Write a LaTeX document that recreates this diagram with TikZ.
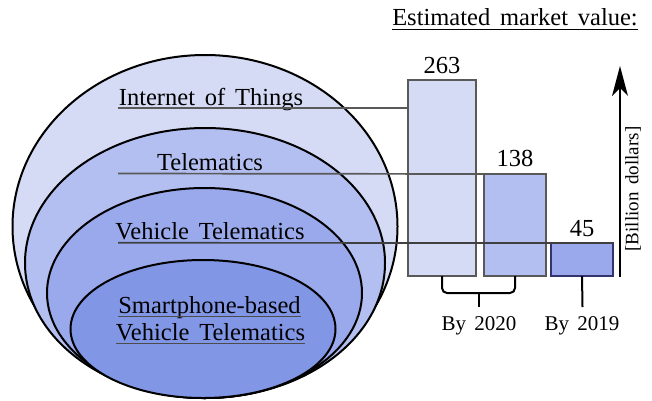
\documentclass[tikz,border=0pt]{standalone}
\usepackage{fontspec}
\setmainfont[WordSpace=1.6]{Liberation Serif}
\usetikzlibrary{arrows.meta}
\definecolor{cA}{HTML}{D5DBF5}
\definecolor{cB}{HTML}{B3BFF0}
\definecolor{cC}{HTML}{99A9EC}
\definecolor{cD}{HTML}{8296E6}
\begin{document}
\begin{tikzpicture}[x=1pt,y=-1pt,
  ell/.style={draw=black,line width=2pt},
  lbl/.style={anchor=base,inner sep=0pt,font=\fontsize{24.5}{28}\selectfont},
  val/.style={anchor=base,inner sep=0pt,font=\fontsize{24.5}{28}\selectfont},
  yr/.style={anchor=base,inner sep=0pt,font=\fontsize{21}{25}\selectfont},
  bar/.style={draw=black!65,line width=1.4pt,inner sep=0pt,outer sep=0pt},
  conn/.style={draw=black!65,line width=1.7pt},
  uline/.style={draw=black!70,line width=1.5pt},
  brk/.style={draw=black,line width=2pt}]
\useasboundingbox (0,0) rectangle (652,400);
\fill[white] (0,0) rectangle (652,400);
% nested ellipses
\draw[ell,fill=cA] (205,226.5) ellipse [x radius=192.5pt,y radius=171.5pt];
\draw[ell,fill=cB] (205,263) ellipse [x radius=180pt,y radius=135pt];
\draw[ell,fill=cC] (204.5,293) ellipse [x radius=157.5pt,y radius=105pt];
\draw[ell,fill=cD] (203,329) ellipse [x radius=132.5pt,y radius=69pt];
% bars
\node[bar,fill=cA,minimum width=68pt,minimum height=196pt] (b1) at (442,178) {};
\node[bar,fill=cB,minimum width=62pt,minimum height=102pt] (b2) at (515,225) {};
\node[bar,fill=cC,draw=black!70!blue!80,minimum width=62pt,minimum height=33pt] (b3) at (582,259.5) {};
% values
\node[val] (v1) at (442,73) {263};
\node[val] (v2) at (515,166) {138};
\node[val] (v3) at (582,236) {45};
% labels
\node[lbl] (iot) at (211,105) {Internet of Things};
\node[lbl] (tel) at (210,170) {Telematics};
\node[lbl] (vt) at (210,239.5) {Vehicle Telematics};
\node[lbl] (sp1) at (209.5,313) {Smartphone-based};
\node[lbl] (sp2) at (210.5,340) {Vehicle Telematics};
\draw[uline] (sp1.base west) ++(0,3.5) -- ([yshift=-3.5pt]sp1.base east);
\draw[uline] (sp2.base west) ++(0,3.5) -- ([yshift=-3.5pt]sp2.base east);
% connectors
\coordinate (iotL) at (118,108.3);
\coordinate (telL) at (118,173.5);
\coordinate (vtL) at (118,242.8);
\draw[conn] (iotL) -- (b1.west |- iotL);
\draw[conn] (telL) -- (b2.north west);
\draw[conn,draw=black!75] (vtL) -- (b3.north east);
% title
\node[val] (title) at (515,25) {Estimated market value:};
\draw[draw=black,line width=1.5pt] (title.base west) ++(0,4.5) -- ([yshift=-4.5pt]title.base east);
% axis arrow
\coordinate (arB) at (620,277);
\coordinate (arT) at (620,66);
\coordinate (arN) at (620,88);
\draw[line width=2.5pt] (arB) -- (arN);
\fill (arT) -- (612,96) -- (arN) -- (628,96) -- cycle;
\node[inner sep=0pt,rotate=90,font=\fontsize{19}{22}\selectfont] (unit) at (633,189) {[Billion dollars]};
% bracket and year labels
\coordinate (brM) at (479,307);
\draw[brk,rounded corners=5pt] (b1.south) -- ++(0,17) -| (b2.south);
\draw[brk] (brM |- 0,293) -- (brM);
\coordinate (b3M) at (582.5,307);
\draw[brk] (b3.south) -- (b3M);
\node[yr] (y20) at (479,330) {By 2020};
\node[yr] (y19) at (582,330) {By 2019};
\end{tikzpicture}
\end{document}
